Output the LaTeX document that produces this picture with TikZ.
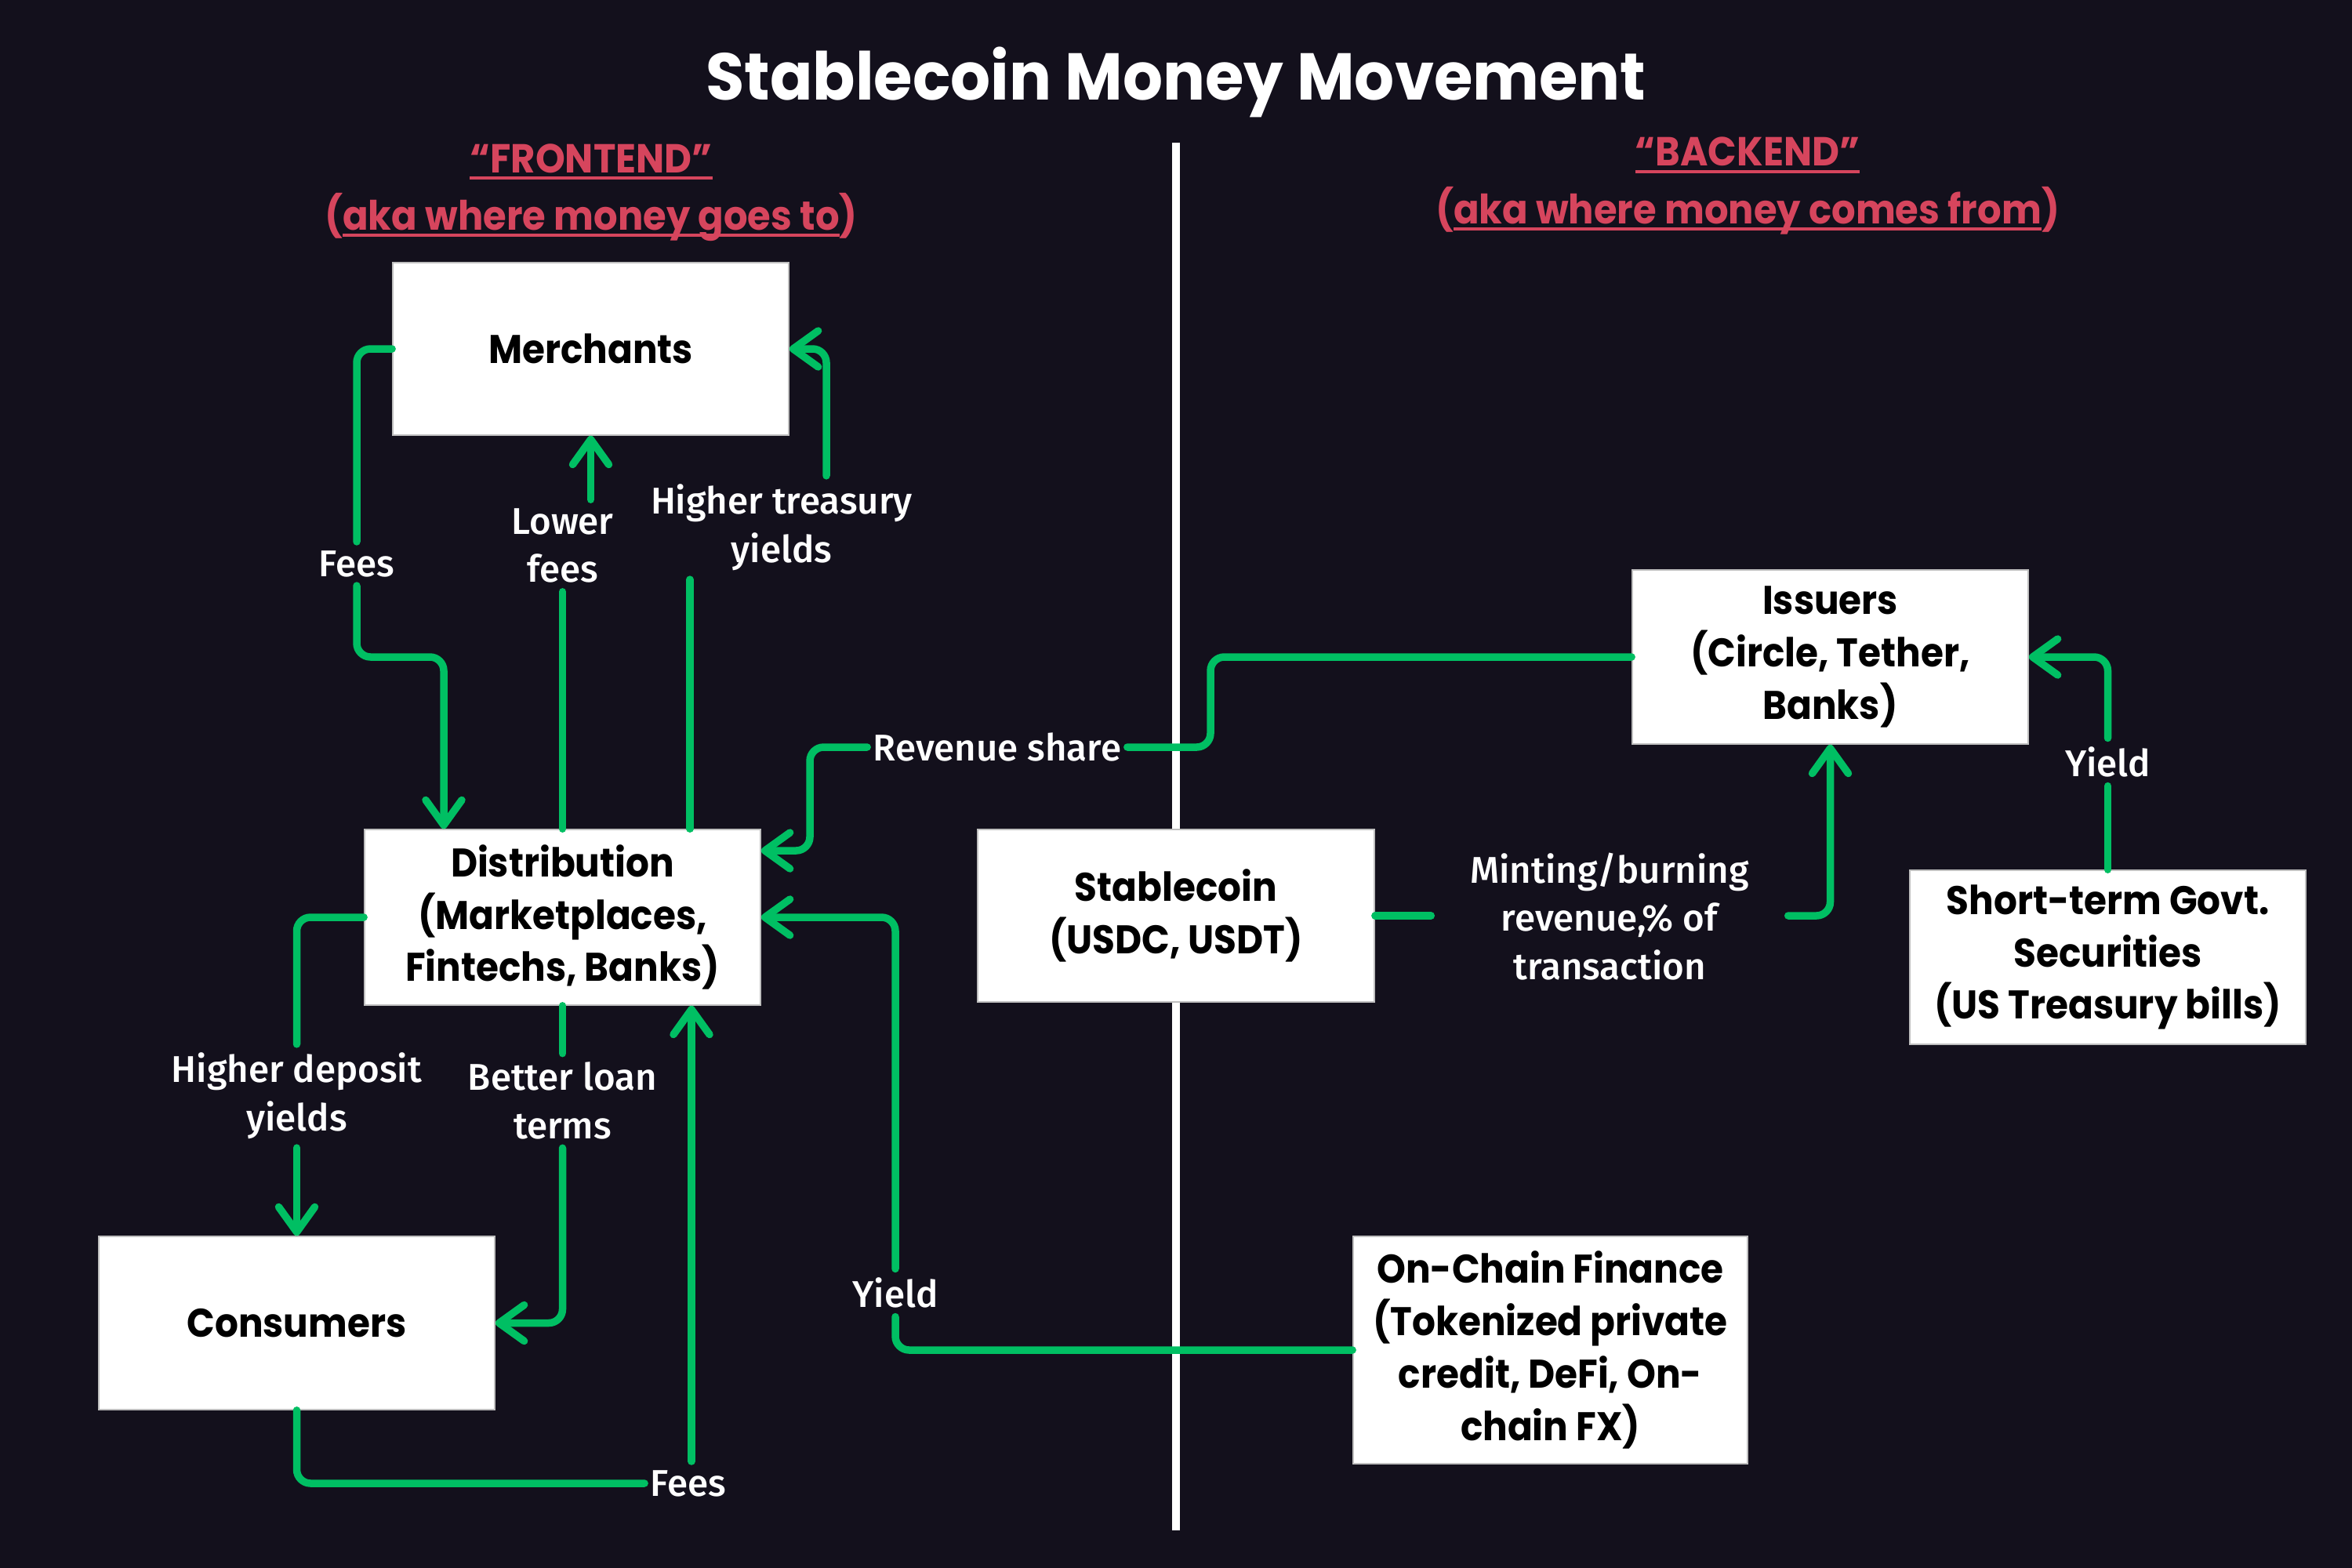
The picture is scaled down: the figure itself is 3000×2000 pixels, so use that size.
\documentclass[tikz,border=0pt]{standalone}
\usepackage{fontspec}
\setmainfont{Poppins}[FakeStretch=0.95]
\newfontfamily\boxfont{Poppins}[FakeStretch=0.92]
\newfontfamily\headfont{Poppins}[FakeStretch=0.93]
\newfontfamily\lblfont{Fira Sans Medium}
\usetikzlibrary{arrows.meta}
\definecolor{bg}{RGB}{19,16,28}
\definecolor{gr}{RGB}{0,191,99}
\definecolor{rd}{RGB}{214,69,93}
\newcommand\myul[1]{\setbox0\hbox{#1}\rlap{\rule[-2.6pt]{\wd0}{1.1pt}}\box0}
\tikzset{
 box/.style={fill=white, draw=gray!50, line width=0.4pt, align=center, font=\boxfont\bfseries\fontsize{14.5}{19}\selectfont, text=black, inner sep=0pt},
 lbl/.style={text=white, align=center, font=\lblfont\fontsize{13.5}{17.5}\selectfont, inner xsep=2pt, inner ysep=3pt},
 head/.style={text=rd, font=\headfont\bfseries\fontsize{14.7}{18}\selectfont, inner sep=0pt},
 gline/.style={draw=gr, line width=2.7pt, rounded corners=5pt, line cap=round},
 garrow/.style={gline, -{Straight Barb[length=3.2mm,width=4.6mm,round]}},
}
\begin{document}
\begin{tikzpicture}[x=0.01cm,y=-0.01cm]
\fill[bg] (0,0) rectangle (3000,2000);
\useasboundingbox (0,0) rectangle (3000,2000);
% title and headings
\node[font=\bfseries\fontsize{24}{28}\selectfont, text=white, anchor=base, inner sep=0pt] (title) at (1500,128) {Stablecoin Money Movement};
\node[head, anchor=base] (fe1) at (754,220) {\myul{“FRONTEND”}};
\node[head, anchor=base] (fe2) at (754,293) {(\myul{aka where money goes to})};
\node[head, anchor=base] (be1) at (2229,212) {\myul{“BACKEND”}};
\node[head, anchor=base] (be2) at (2229,285) {(\myul{aka where money comes from})};
% divider
\coordinate (dtop) at (1500,182);
\coordinate (dbot) at (1500,1952);
\draw[white, line width=2.6pt] (dtop) -- (dbot);
% boxes
\node[box, minimum width=5.05cm, minimum height=2.2cm] (merch) at (753.5,445) {Merchants};
\node[box, minimum width=5.05cm, minimum height=2.24cm] (dist) at (717.5,1170) {Distribution\\(Marketplaces,\\Fintechs, Banks)};
\node[box, minimum width=5.05cm, minimum height=2.21cm] (cons) at (378.5,1687.5) {Consumers};
\node[box, minimum width=5.06cm, minimum height=2.2cm] (stable) at (1500,1168) {Stablecoin\\(USDC, USDT)};
\node[box, minimum width=5.05cm, minimum height=2.22cm] (issuers) at (2334.5,838) {Issuers\\(Circle, Tether,\\Banks)};
\node[box, minimum width=5.05cm, minimum height=2.22cm] (short) at (2688.5,1221) {Short-term Govt.\\Securities\\(US Treasury bills)};
\node[box, minimum width=5.03cm, minimum height=2.9cm] (onchain) at (1977.5,1722) {On-Chain Finance\\(Tokenized private\\credit, DeFi, On-\\chain FX)};
% labels
\node[lbl] (fees1) at (455,719) {Fees};
\node[lbl] (lower) at (717.5,696) {Lower\\fees};
\node[lbl] (treas) at (997,673) {Higher treasury\\yields};
\node[lbl] (depo) at (378.5,1398) {Higher deposit\\yields};
\node[lbl] (loan) at (717.5,1404) {Better loan\\terms};
\node[lbl] (fees2) at (878,1892) {Fees};
\node[lbl] (rev) at (1272,953) {Revenue share};
\node[lbl] (yield1) at (1142,1649) {Yield};
\node[lbl, inner xsep=14pt] (mint) at (2053,1169) {Minting/burning\\revenue,\% of\\transaction};
\node[lbl] (yield2) at (2688.5,972) {Yield};
% connectors
\draw[gline] (merch.west) -| (fees1);
\draw[garrow] (fees1) |- (566,838) -- (566,0 |- dist.north);
\draw[gline] (dist.north) -- (lower);
\draw[garrow] (merch.south |- lower.north) -- (merch.south);
\draw[gline] (880,0 |- dist.north) -- (880,0 |- treas.south);
\draw[garrow] (1054,0 |- treas.north) |- (merch.east);
\draw[gline] (dist.west) -| (depo);
\draw[garrow] (depo) -- (cons.north);
\draw[gline] (dist.south) -- (loan);
\draw[garrow] (loan) |- (cons.east);
\draw[gline] (cons.south) |- (fees2);
\draw[garrow] (882,0 |- fees2.north) -- (882,0 |- dist.south);
\draw[gline] (issuers.west) -| (1544,953) -- (rev);
\draw[garrow] (rev) -| (1033,1085) -- (dist.east |- 0,1085);
\draw[gline] (onchain.west) -| (yield1);
\draw[garrow] (yield1) |- (dist.east);
\draw[gline] (stable.east) -- (stable.east -| mint.west);
\draw[garrow] (mint.east |- stable.east) -| (issuers.south);
\draw[gline] (short.north) -- (yield2);
\draw[garrow] (yield2) |- (issuers.east);
\end{tikzpicture}
\end{document}
